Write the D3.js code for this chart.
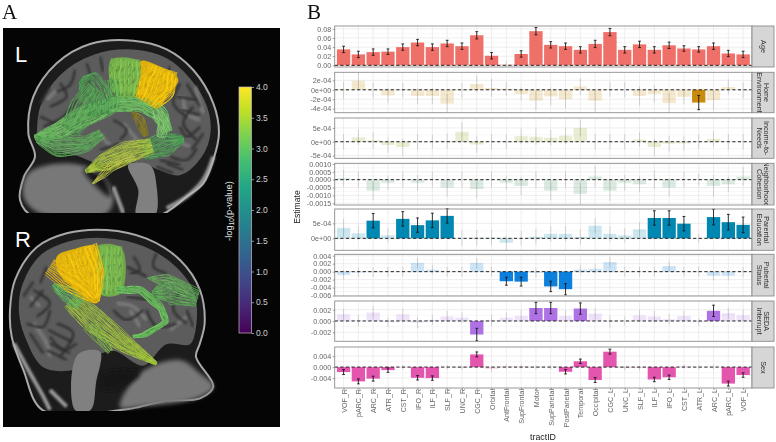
<!DOCTYPE html>
<html>
<head>
<meta charset="utf-8">
<script src="https://cdn.jsdelivr.net/npm/d3@7"></script>
<style>
  html, body { margin: 0; padding: 0; background: #fff; }
  text { font-family: "Liberation Sans", sans-serif; }
</style>
</head>
<body>
<svg id="fig" width="776" height="442"></svg>
<script>
'use strict';
// tract names along the x axis
const tracts = ['VOF_R','pARC_R','ARC_R','ATR_R','CST_R','IFO_R','ILF_R','SLF_R','UNC_R','CGC_R','Orbital','AntFrontal','SupFrontal','Motor',
  'SupParietal','PostParietal','Temporal','Occipital','CGC_L','UNC_L','SLF_L','ILF_L','IFO_L','CST_L','ATR_L','ARC_L','pARC_L','VOF_L'];

// estimates and half widths of the error bars
const ageValues = [.035,.024,.029,.030,.040,.050,.040,.048,.042,.066,.021,.003,.025,.075,.045,.042,.034,.047,.073,.034,.046,.034,.044,.037,.035,.042,.026,.024];
const ageErrors = [.007,.007,.007,.006,.007,.007,.007,.007,.007,.008,.007,.006,.007,.008,.007,.007,.007,.008,.008,.007,.007,.007,.007,.006,.006,.007,.007,.007];
const ageSig = tracts.filter(t => t !== 'AntFrontal');

const homeValues = [-.1,1.9,-.1,-1.2,-.1,-1.3,-1.3,-2.9,-.1,1.2,.4,.2,-.9,-2.3,-1.4,-2.0,.7,-2.3,.1,0,-1.3,-.9,-2.8,-1.5,-2.7,-2.2,.6,-.1];
const homeErrors = [1.8,1.9,1.7,1.6,1.6,1.7,1.7,2.0,1.6,1.8,1.9,1.5,1.4,2.0,1.9,1.9,1.8,2.3,1.6,1.6,2.0,1.8,2.1,1.5,1.5,2.1,1.6,1.7];
const homeSig = ['ATR_L'];

const incomeValues = [0,1.6,.5,-1.2,-1.9,0,0,.2,3.6,-1,0,0,2,1.8,1.5,2.2,5,0,0,0,.8,-1.9,-.7,-.6,0,1,0,0];
const incomeErrors = [2.8,2.8,3,2.7,3,2.8,2.5,2.7,3.6,3,2.8,2.6,2.8,3,2.8,3,3,2.8,2.7,2.7,2.7,3,2.8,2.6,2.6,2.8,2.8,2.8];
const incomeSig = [];

const cohesionValues = [1,0,-7,-2,0,-2,0,-5,0,-6,0,-2,-4,0,-7,0,-9,2,-7,-2,-3,0,-5,0,0,-4,-3,2];
const cohesionErrors = [5.5,5,6,4.5,5,5,5,5.8,5,6,5,4.5,5.8,5,6,5,6.8,7,6.6,5,5,6,5.8,5,4,7,5,6];
const cohesionSig = [];

const educationValues = [3.5,1.7,5.9,1,6.5,4.4,6,7.5,0,.2,.2,-1.5,0,.5,1.5,1.5,.5,4.2,1.5,1,3,6.8,6.8,4.9,0,7.1,5.4,4.5];
const educationErrors = [3,2.4,2.4,2.4,2.4,2.4,2.4,2.4,2.6,2.6,2.6,2.4,2.4,2.6,2.6,2.6,2.6,2.6,2.6,2.4,2.4,2.4,2.4,2.4,1.6,2.6,2.6,2.6];
const educationSig = ['ARC_R','CST_R','IFO_R','ILF_R','SLF_R','ILF_L','IFO_L','CST_L','ARC_L','pARC_L','VOF_L'];

const pubertalValues = [-.0008,-.0002,-.0001,0,0,.0022,.0005,0,0,.0022,0,-.0024,-.0025,-.0003,-.0037,-.0044,.0005,.0007,.0024,0,0,0,.0014,0,0,-.001,-.001,0];
const pubertalErrors = [.0012,.0012,.0012,.0012,.0012,.0013,.0012,.0012,.0012,.0013,.0012,.0010,.0011,.0012,.0013,.0014,.0012,.0012,.0013,.0012,.0012,.0012,.0013,.0012,.0012,.0012,.0012,.0012];
const pubertalSig = ['AntFrontal','SupFrontal','SupParietal','PostParietal'];

const sedaValues = [.0012,.0001,.0015,-.0002,.0012,-.0003,.0002,.0008,.0006,-.0024,.0001,.0006,.0009,.0023,.0023,.0009,.0022,.0013,-.0001,0,.001,.0008,.0003,.0009,-.0002,.0018,.0014,.0010];
const sedaErrors = [.0010,.0010,.0011,.0008,.0010,.0010,.0009,.0010,.0010,.0011,.0010,.0009,.0010,.0010,.0010,.0010,.0010,.0010,.0011,.0008,.0010,.0010,.0010,.0009,.0007,.0010,.0010,.0010];
const sedaSig = ['CGC_R','Motor','SupParietal','Temporal','ARC_L'];

const sexValues = [-.0018,-.0052,-.0042,-.0011,-.0001,-.0039,-.0040,0,-.0002,.0046,-.0007,.0002,.0002,-.0001,0,-.0017,.0021,-.0047,.0056,-.0004,-.0004,-.0045,-.0037,.0002,0,0,-.0060,-.0029];
const sexErrors = [.0009,.0009,.0009,.0008,.0008,.0008,.0008,.0008,.0008,.0009,.0009,.0008,.0008,.0008,.0008,.0008,.0008,.0009,.0009,.0008,.0009,.0008,.0008,.0008,.0008,.0008,.0009,.0008];
const sexSig = ['VOF_R','pARC_R','ARC_R','ATR_R','IFO_R','ILF_R','CGC_R','PostParietal','Temporal','Occipital','CGC_L','ILF_L','IFO_L','pARC_L','VOF_L'];

const ageTicks = [0,.02,.04,.06,.08], ageLabels = ['0.00','0.02','0.04','0.06','0.08'];
const homeTicks = [-4,-2,0,2], homeLabels = ['-4e-04','-2e-04','0e+00','2e-04'];
const incomeTicks = [-5,0,5], incomeLabels = ['-5e-04','0e+00','5e-04'];
const cohesionTicks = [-15,-10,-5,0,5,10], cohesionLabels = ['-0.0015','-0.0010','-0.0005','0.0000','0.0005','0.0010'];
const educationTicks = [0,5], educationLabels = ['0e+00','5e-04'];
const pubertalTicks = [-.006,-.004,-.002,0,.002,.004], pubertalLabels = ['-0.006','-0.004','-0.002','0.000','0.002','0.004'];
const sedaTicks = [-.002,0,.002], sedaLabels = ['-0.002','0.000','0.002'];
const sexTicks = [-.004,0,.004], sexLabels = ['-0.004','0.000','0.004'];

const cbarTicks = [0,.5,1,1.5,2,2.5,3,3.5,4];

// one row per facet: layout and colour live here, the numbers above
const rows = [
  {strip:['Age'], v:ageValues, e:ageErrors, sig:ageSig, ticks:ageTicks, labels:ageLabels, dom:[-.0037,.0864], top:26, bot:67, col:'#EF7068'},
  {strip:['Home','Environment'], v:homeValues, e:homeErrors, sig:homeSig, ticks:homeTicks, labels:homeLabels, dom:[-4.85,3.7], top:72.3, bot:112.7, col:'#C98A08'},
  {strip:['Income-to-','Needs'], v:incomeValues, e:incomeErrors, sig:incomeSig, ticks:incomeTicks, labels:incomeLabels, dom:[-6,8.6], top:118, bot:158.3, col:'#93A51E'},
  {strip:['Neighborhood','Cohesion'], v:cohesionValues, e:cohesionErrors, sig:cohesionSig, ticks:cohesionTicks, labels:cohesionLabels, dom:[-16.1,10.4], top:163.3, bot:205, col:'#4E9A6A'},
  {strip:['Parental','Education'], v:educationValues, e:educationErrors, sig:educationSig, ticks:educationTicks, labels:educationLabels, dom:[-4,9.8], top:209, bot:250.3, col:'#0487B2'},
  {strip:['Pubertal','Status'], v:pubertalValues, e:pubertalErrors, sig:pubertalSig, ticks:pubertalTicks, labels:pubertalLabels, dom:[-.0061,.00435], top:254.3, bot:296, col:'#0A7FDC'},
  {strip:['SEDA','Interrupt'], v:sedaValues, e:sedaErrors, sig:sedaSig, ticks:sedaTicks, labels:sedaLabels, dom:[-.0036,.00354], top:301, bot:341.3, col:'#AE72E4'},
  {strip:['Sex'], v:sexValues, e:sexErrors, sig:sexSig, ticks:sexTicks, labels:sexLabels, dom:[-.0076,.0073], top:347, bot:388, col:'#E455AE'},
];

const svg = d3.select('#fig');
const defs = svg.append('defs');
defs.append('filter').attr('id','soft').append('feGaussianBlur').attr('stdDeviation',0.42);
defs.append('filter').attr('id','fibre').append('feGaussianBlur').attr('stdDeviation',1.5);
defs.append('filter').attr('id','mri').append('feGaussianBlur').attr('stdDeviation',2.2);
defs.append('filter').attr('id','fold').append('feGaussianBlur').attr('stdDeviation',3.6);
defs.append('filter').attr('id','mriBig').append('feGaussianBlur').attr('stdDeviation',7);

/* ---------- panel B ---------- */
const left = 334.7, right = 752, stripR = 774;
const x = d3.scalePoint().domain(tracts).range([left,right]).padding(0.6);
const barW = x.step()*0.9;
const chart = svg.append('g').attr('filter','url(#soft)');

rows.forEach((r,ri) => {
  const y = d3.scaleLinear().domain(r.dom).range([r.bot,r.top]);
  const g = chart.append('g');
  g.append('rect').attr('x',left).attr('y',r.top).attr('width',right-left).attr('height',r.bot-r.top).attr('fill','#fff');

  // grid: major at ticks and tracts, minor half way between the ticks
  const minor = d3.pairs(r.ticks).map(([a,b]) => (a+b)/2);
  g.selectAll('.minor').data(minor).join('line').attr('class','minor')
    .attr('x1',left).attr('x2',right).attr('y1',d=>y(d)).attr('y2',d=>y(d))
    .attr('stroke','#f1f1f1').attr('stroke-width',.5);
  g.selectAll('.major').data(r.ticks).join('line').attr('class','major')
    .attr('x1',left).attr('x2',right).attr('y1',d=>y(d)).attr('y2',d=>y(d))
    .attr('stroke','#e6e6e6').attr('stroke-width',.7);
  g.selectAll('.vgrid').data(tracts).join('line').attr('class','vgrid')
    .attr('x1',d=>x(d)).attr('x2',d=>x(d)).attr('y1',r.top).attr('y2',r.bot)
    .attr('stroke','#e6e6e6').attr('stroke-width',.7);

  const rowData = tracts.map((t,i) => ({t, v:r.v[i], e:r.e[i], s:r.sig.includes(t)}));
  g.selectAll('.bar').data(rowData).join('rect').attr('class','bar')
    .attr('x',d=>x(d.t)-barW/2).attr('width',barW)
    .attr('y',d=>Math.min(y(d.v),y(0))).attr('height',d=>Math.abs(y(d.v)-y(0)))
    .attr('fill',r.col).attr('fill-opacity',d=>d.s?1:.2);

  const eb = g.selectAll('.eb').data(rowData).join('g').attr('class','eb')
    .attr('stroke','#111').attr('stroke-width',.85);
  eb.append('line').attr('stroke-opacity',d=>d.s?1:.18)
    .attr('x1',d=>x(d.t)).attr('x2',d=>x(d.t)).attr('y1',d=>y(d.v-d.e)).attr('y2',d=>y(d.v+d.e));
  eb.filter(d=>d.s).append('line').attr('x1',d=>x(d.t)-1.4).attr('x2',d=>x(d.t)+1.4).attr('y1',d=>y(d.v-d.e)).attr('y2',d=>y(d.v-d.e));
  eb.filter(d=>d.s).append('line').attr('x1',d=>x(d.t)-1.4).attr('x2',d=>x(d.t)+1.4).attr('y1',d=>y(d.v+d.e)).attr('y2',d=>y(d.v+d.e));

  g.append('line').attr('x1',left).attr('x2',right).attr('y1',y(0)).attr('y2',y(0))
    .attr('stroke','#222').attr('stroke-width',1).attr('stroke-dasharray','3.2,2.4');

  g.append('rect').attr('x',left).attr('y',r.top).attr('width',right-left).attr('height',r.bot-r.top)
    .attr('fill','none').attr('stroke','#8c8c8c').attr('stroke-width',.9);

  // strip
  const clip = `strip${ri}`;
  defs.append('clipPath').attr('id',clip).append('rect').attr('x',right).attr('y',r.top).attr('width',stripR-right).attr('height',r.bot-r.top);
  g.append('rect').attr('x',right).attr('y',r.top).attr('width',stripR-right).attr('height',r.bot-r.top)
    .attr('fill','#d6d6d6').attr('stroke','#8c8c8c').attr('stroke-width',.9);
  const midY = (r.top+r.bot)/2, midX = (right+stripR)/2;
  const st = g.append('g').attr('clip-path',`url(#${clip})`).append('g').attr('transform',`translate(${midX},${midY}) rotate(90)`);
  r.strip.forEach((s,i) => {
    st.append('text').attr('text-anchor','middle').attr('x',0)
      .attr('y',(i-(r.strip.length-1)/2)*7.8+2.5)
      .attr('font-size',7.2).attr('fill','#2e2e2e').text(s);
  });

  // y axis
  const ax = g.append('g').attr('transform',`translate(${left},0)`)
    .call(d3.axisLeft(y).tickValues(r.ticks).tickSize(2).tickPadding(1.5).tickFormat((d,i)=>r.labels[i]));
  ax.select('.domain').remove();
  ax.selectAll('line').attr('stroke','#666').attr('stroke-width',.6);
  ax.selectAll('text').attr('fill','#666').attr('font-size',7.2).attr('font-family','Liberation Sans');
});

// x axis
const xAxis = chart.append('g').attr('transform','translate(0,388)')
  .call(d3.axisBottom(x).tickSize(2).tickPadding(2));
xAxis.select('.domain').remove();
xAxis.selectAll('line').attr('stroke','#666').attr('stroke-width',.6);
xAxis.selectAll('text').attr('fill','#666').attr('font-size',7.1).attr('font-family','Liberation Sans')
  .attr('text-anchor','end').attr('dy',0).attr('dx',0)
  .attr('transform',function(){ return `translate(2.5,${5-parseFloat(d3.select(this).attr('y'))}) rotate(-90)`; })
  .attr('x',0).attr('y',0);

chart.append('text').attr('x',543).attr('y',440).attr('text-anchor','middle').attr('font-size',8.8).attr('fill','#222').text('tractID');
chart.append('text').attr('transform','translate(300,207) rotate(-90)').attr('text-anchor','middle').attr('font-size',8.6).attr('fill','#222').text('Estimate');

/* ---------- panel A ---------- */
// anatomy is sketched in crop units, three to the screen pixel
const headL = [[85,400],[100,290],[170,190],[270,132],[400,122],[500,148],[580,210],[640,310],[657,400],[640,480],[610,550],[560,590],[470,650],[100,650],[60,600],[72,530],[105,470]];
const brainL = [[108,400],[118,320],[176,226],[280,162],[400,146],[500,172],[572,234],[624,320],[634,400],[606,474],[540,528],[470,510],[420,490],[300,495],[230,470],[170,455],[108,430]];
const foldsL = [[[150,320],[200,290],[180,250]],[[130,380],[190,350],[230,300]],[[260,190],[270,240],[240,260]],[[540,250],[520,310],[560,350]],[[580,320],[550,370],[590,420]],[[510,470],[560,480],[590,445]],[[340,360],[380,390],[360,420]],[[510,200],[500,280]],[[300,170],[310,215]],[[150,260],[120,310]],[[600,380],[560,410],[540,380]],[[560,250],[600,320]],[[120,350],[170,380],[140,400]],[[500,490],[550,510]],[[530,290],[590,300]],[[470,500],[520,520]],[[480,480],[540,495]],[[545,330],[600,345]],[[610,400],[575,450]],[[225,210],[210,255],[170,275]],[[360,430],[300,450]]];
const gyriL = [[[550,290],[560,340],[600,360]],[[140,300],[170,270]],[[520,420],[570,440]],[[300,400],[340,440],[410,420]],[[370,370],[420,430]],[[585,260],[610,340]]];
const faceL = [[85,520],[200,490],[300,520],[340,590],[320,640],[120,640],[70,590]];
const stemL = [[385,495],[450,495],[470,560],[465,645],[410,645],[415,570]];
const airL = [[250,510],[310,530],[330,590],[290,560]];
const fatL = [[[640,470],[610,540],[560,590],[500,625]],[[340,560],[370,640]]];

const headR = [[30,300],[45,210],[110,112],[200,70],[320,60],[440,86],[540,150],[600,240],[614,340],[600,400],[588,440],[640,530],[600,565],[500,572],[420,590],[380,598],[130,602],[70,480],[35,380]];
const brainR = [[54,300],[66,220],[122,132],[205,92],[320,82],[430,106],[527,166],[584,245],[592,340],[572,405],[500,405],[430,470],[340,425],[280,445],[230,480],[130,475],[72,380]];
const foldsR = [[[100,240],[150,280],[110,320]],[[80,340],[130,350],[150,300]],[[400,140],[420,180],[390,190]],[[470,130],[460,170],[500,190]],[[540,240],[520,300],[560,340]],[[150,380],[190,420],[230,400]],[[170,340],[220,370],[180,440]],[[340,300],[380,330],[430,300]],[[90,290],[130,240]],[[140,170],[120,220]],[[440,300],[470,350],[530,340]],[[530,370],[570,370]],[[140,420],[200,450]],[[380,260],[450,270]],[[150,400],[210,430]],[[145,360],[215,395]],[[70,260],[100,215]],[[380,170],[440,200]],[[560,300],[580,350]],[[90,370],[130,430]]];
const gyriR = [[[100,340],[140,400],[150,440]],[[350,280],[400,290],[440,330]],[[510,360],[560,320]],[[90,260],[120,290]],[[390,300],[420,350]]];
const faceR = [[420,490],[540,450],[600,490],[640,530],[590,565],[420,590],[360,592]];
const stemR = [[232,435],[300,425],[288,520],[272,600],[225,600]];
const airR = [[300,500],[360,480],[420,490],[370,530],[310,540]];
const fatR = [[[42,400],[85,480],[130,560],[150,600]],[[150,540],[200,590]]];

const yellowL = [[422,183],[470,195],[535,238],[500,290],[475,322],[405,290],[420,230]];
const greenBlockL = [[335,178],[420,185],[420,230],[405,290],[345,285],[328,240]];
const yellowR = [[170,140],[220,118],[290,110],[300,240],[290,280],[240,250],[180,195]];
const greenBlockR = [[290,110],[365,115],[362,250],[300,252]];

// centre lines of the fibre bundles: x, y, half width
const bundlesL = [
  {pts:[[375,288,30],[375,235,46],[378,178,42]], n:30, col:'#7DB94F', w:2.6, dark:.7},
  {pts:[[105,412,6],[170,395,24],[250,352,30],[340,314,22],[420,312,20],[480,340,24],[502,395,16]], n:30, col:'#69B25E', w:3, dark:.2},
  {pts:[[300,345,32],[292,295,44],[265,252,44],[245,238,12]], n:28, col:'#4F9E54', w:2.4, dark:1},
  {pts:[[210,392,28],[250,325,44],[285,265,26]], n:22, col:'#55A153', w:2.4, dark:1},
  {pts:[[345,325,12],[338,280,22],[330,240,20]], n:12, col:'#5BA655', w:2.4, dark:.8},
  {pts:[[112,418,8],[175,440,34],[260,432,22],[305,402,14]], n:22, col:'#5DA858', w:2.4, dark:.8},
  {pts:[[430,452,26],[495,432,38],[550,418,8]], n:24, col:'#4FA356', w:2.4, dark:1},
  {pts:[[258,514,3],[310,488,26],[380,458,32],[455,438,22]], n:30, col:'#A7BF3E', w:2.2, dark:.6},
  {pts:[[280,550,2],[330,504,14],[400,466,14]], n:10, col:'#C9CC4C', w:1.8, dark:.2},
  {pts:[[398,338,4],[420,360,16],[436,408,6]], n:9, col:'#8A7A1E', w:3, dark:.5},
  {pts:[[470,330,14],[492,370,18],[482,412,10]], n:10, col:'#82C172', w:2.6, dark:.2},
  {pts:[[440,308,32],[470,262,58],[488,205,44]], n:36, col:'#E8BC10', w:2.8, dark:.7, gold:true},
];
const bundlesR = [
  {pts:[[330,252,32],[328,182,38],[328,110,38]], n:26, col:'#7DBB52', w:2.6, dark:.4},
  {pts:[[350,240,8],[420,238,11],[480,290,9],[500,335,8],[440,372,7],[400,380,2]], n:10, col:'#66B55A', w:3.2, dark:.1},
  {pts:[[460,252,10],[510,240,42],[592,265,26]], n:26, col:'#5EAA56', w:2.2, dark:1},
  {pts:[[445,205,2],[500,210,20],[565,245,16]], n:10, col:'#6DB25C', w:1.8, dark:.5},
  {pts:[[215,270,28],[280,330,38],[360,392,28],[468,460,4]], n:36, col:'#9DBD3C', w:2.2, dark:.6},
  {pts:[[270,345,22],[330,425,10]], n:9, col:'#7FB545', w:2.4, dark:.3},
  {pts:[[160,226,6],[205,255,26],[240,282,16]], n:14, col:'#5FB35A', w:2.8, dark:.2},
  {pts:[[288,275,10],[262,200,54],[232,122,62]], n:38, col:'#E8BC10', w:2.8, dark:.6, gold:true},
  {pts:[[280,262,18],[220,215,36],[150,170,26]], n:20, col:'#E6B60E', w:2.4, dark:.4, gold:true},
];

const blob = d3.line().curve(d3.curveCatmullRomClosed.alpha(.5));
const bend = d3.line().curve(d3.curveCatmullRom.alpha(.5));
const strandLine = d3.line().curve(d3.curveBasis);

// resample a centre line, then one strand per offset; each strand gets its own slow wobble
function strands(g, b){
  const steps = 5;
  const samples = [];
  d3.pairs(b.pts).forEach(([p,q]) => {
    d3.range(steps).forEach(s => {
      const u = s/steps;
      samples.push([p[0]+(q[0]-p[0])*u, p[1]+(q[1]-p[1])*u, p[2]+(q[2]-p[2])*u]);
    });
  });
  samples.push(b.pts[b.pts.length-1]);
  d3.range(b.n).forEach(i => {
    const t = i/(b.n-1)-.5;
    const phase = Math.sin(i*91.7)*6;
    const speed = .5+Math.abs(Math.sin(i*47.3))*.6;
    const path = samples.map((p,j) => {
      const a = samples[Math.max(j-1,0)], c = samples[Math.min(j+1,samples.length-1)];
      const dx = c[0]-a[0], dy = c[1]-a[1], len = Math.hypot(dx,dy)||1;
      const wob = Math.sin(phase+j*speed)*2.2;
      return [p[0]-dy/len*(p[2]*2*t+wob), p[1]+dx/len*(p[2]*2*t+wob)];
    });
    const shade = Math.sin(i*7.77);
    const col = shade > .55 ? d3.color(b.col).brighter(.3) : b.col;
    g.append('path').attr('d',strandLine(path)).attr('fill','none').attr('stroke',col)
      .attr('stroke-width',b.w).attr('stroke-linecap','round');
    if (Math.sin(i*5.13) < b.dark-.6) {
      // broken darker strand gives the mottled look of the render
      g.append('path').attr('d',strandLine(path)).attr('fill','none').attr('stroke',b.gold?'#8F6A0C':'#1F4A26')
        .attr('stroke-width',1.5).attr('stroke-opacity',.7).attr('stroke-dasharray',`${6+i%9},${17+i%13}`);
    }
  });
}

function drawBrain(g, a){
  const soft = sel => sel.attr('filter','url(#mri)');
  const fold = sel => sel.attr('filter','url(#fold)');
  soft(g.append('path').attr('d',blob(a.head)).attr('fill','#1f1f1f').attr('stroke','#a9a9a9').attr('stroke-width',6));
  soft(g.append('path').attr('d',blob(a.brain)).attr('fill','#5b5b5b').attr('stroke','#1c1c1c').attr('stroke-width',5));
  a.gyri.forEach(f => fold(g.append('path').attr('d',bend(f)).attr('fill','none').attr('stroke','#777').attr('stroke-width',12)));
  a.folds.forEach(f => fold(g.append('path').attr('d',bend(f)).attr('fill','none').attr('stroke','#303030').attr('stroke-width',7)));
  soft(g.append('path').attr('d',blob(a.stem)).attr('fill','#808080'));
  g.append('path').attr('d',blob(a.face)).attr('fill','#787878').attr('filter','url(#mriBig)');
  g.append('path').attr('d',blob(a.air)).attr('fill','#181818').attr('filter','url(#mriBig)');
  a.fat.forEach(f => g.append('path').attr('d',bend(f)).attr('fill','none').attr('stroke','#b8b8b8').attr('stroke-width',12).attr('stroke-opacity',.8).attr('filter','url(#fold)'));
  // fibres: flat colour under the two blocks, strands on top
  const fib = g.append('g').attr('filter','url(#fibre)');
  fib.append('path').attr('d',blob(a.block)).attr('fill','#6FA848');
  fib.append('path').attr('d',blob(a.yellow)).attr('fill','#DDB00C');
  a.bundles.forEach(b => strands(fib,b));
}

const imgA = svg.append('g');
imgA.append('rect').attr('x',3).attr('y',28).attr('width',277).attr('height',399).attr('fill','#050505');

const gL = imgA.append('g').attr('transform','scale(0.3333)');
drawBrain(gL,{head:headL,brain:brainL,folds:foldsL,gyri:gyriL,face:faceL,stem:stemL,air:airL,fat:fatL,block:greenBlockL,yellow:yellowL,bundles:bundlesL});
imgA.append('rect').attr('x',3).attr('y',213).attr('width',277).attr('height',14).attr('fill','#050505');
const gR = imgA.append('g').attr('transform','translate(0,210) scale(0.3333)');
drawBrain(gR,{head:headR,brain:brainR,folds:foldsR,gyri:gyriR,face:faceR,stem:stemR,air:airR,fat:fatR,block:greenBlockR,yellow:yellowR,bundles:bundlesR});

// colour bar backdrop and the black band under the lower slice
imgA.append('rect').attr('x',227).attr('y',78).attr('width',53).attr('height',265).attr('fill','#050505');
imgA.append('rect').attr('x',3).attr('y',411).attr('width',277).attr('height',16).attr('fill','#050505');

imgA.append('text').attr('x',15).attr('y',62).attr('font-size',22).attr('fill','#fff').text('L');
imgA.append('text').attr('x',15).attr('y',247).attr('font-size',22).attr('fill','#fff').text('R');

// colour bar
const cbar = d3.scaleLinear().domain([0,4]).range([333,87]);
const grad = defs.append('linearGradient').attr('id','viridis').attr('x1',0).attr('x2',0).attr('y1',1).attr('y2',0);
d3.range(0,1.01,.1).forEach(t => grad.append('stop').attr('offset',t).attr('stop-color',d3.interpolateViridis(t)));
const cb = imgA.append('g');
cb.append('rect').attr('x',239).attr('y',cbar(4)).attr('width',12.5).attr('height',cbar(0)-cbar(4))
  .attr('fill','url(#viridis)').attr('stroke','#c9b8c9').attr('stroke-width',.7);
const cax = cb.append('g').attr('transform','translate(251.5,0)')
  .call(d3.axisRight(cbar).tickValues(cbarTicks).tickSize(2.5).tickPadding(2).tickFormat(d3.format('.1f')));
cax.select('.domain').remove();
cax.selectAll('line').attr('stroke','#ccc').attr('stroke-width',.7);
cax.selectAll('text').attr('fill','#d0d0d0').attr('font-size',8.5).attr('font-family','DejaVu Sans');
const lab = cb.append('text').attr('transform','translate(232,211) rotate(-90)').attr('text-anchor','middle')
  .attr('font-size',9.4).attr('fill','#e6e6e6').attr('font-family','DejaVu Sans');
lab.append('tspan').text('-log');
lab.append('tspan').attr('font-size',6.4).attr('dy',1.8).text('10');
lab.append('tspan').attr('dy',-1.8).text('(p-value)');

// panel letters
svg.append('text').attr('x',2).attr('y',19).attr('font-size',21).attr('fill','#111').style('font-family','Liberation Serif').text('A');
svg.append('text').attr('x',307).attr('y',19).attr('font-size',21).attr('fill','#111').style('font-family','Liberation Serif').text('B');
</script>
</body>
</html>
